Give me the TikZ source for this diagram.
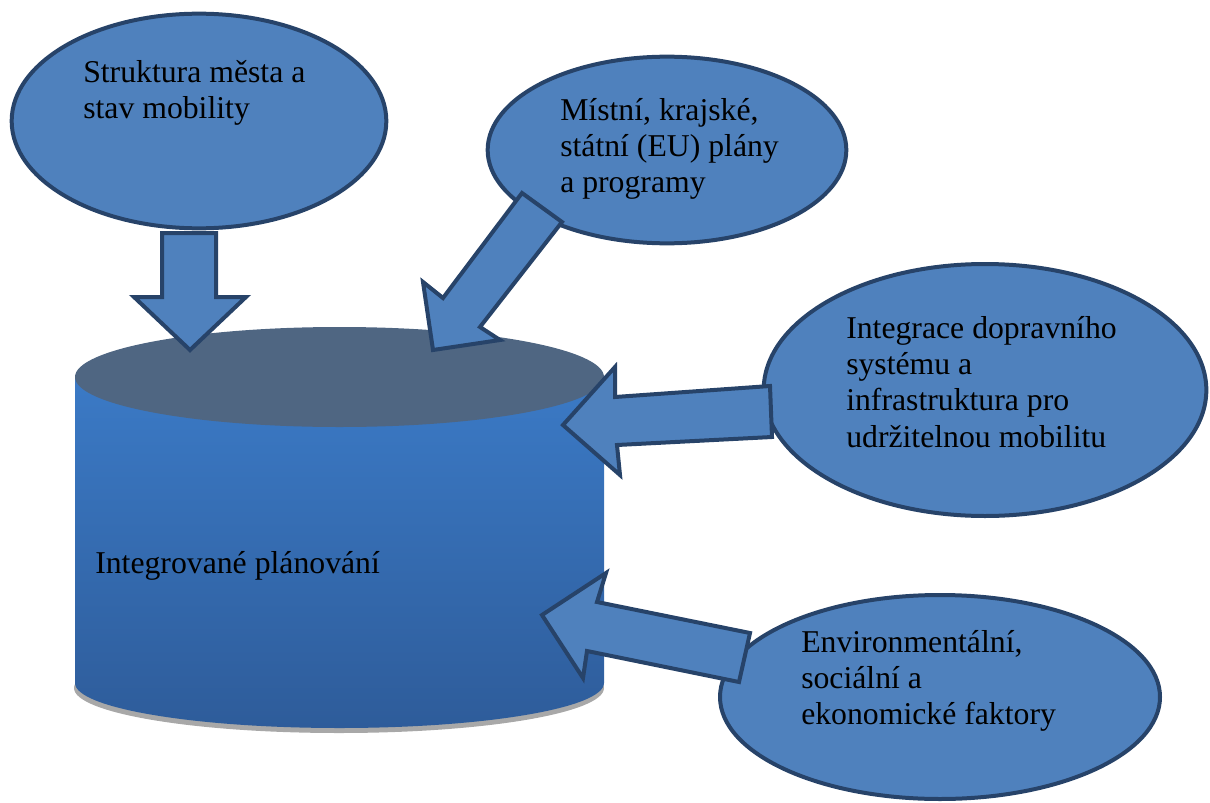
\documentclass[tikz,border=0pt]{standalone}
\usepackage{fontspec}
\setmainfont{Liberation Serif}
\usetikzlibrary{shapes.geometric}
\definecolor{ovalblue}{HTML}{4F81BD}
\definecolor{edgeblue}{HTML}{274369}
\definecolor{cyltop}{HTML}{4F6682}
\definecolor{cyllight}{HTML}{3B7AC6}
\definecolor{cyldark}{HTML}{2E5C9A}
\definecolor{shadowgray}{HTML}{A8A8A8}
\begin{document}
\begin{tikzpicture}[x=0.75pt,y=-0.75pt]
\tikzstyle{oval}=[ellipse, draw=edgeblue, fill=ovalblue, line width=3pt, inner sep=0pt]
\tikzstyle{label}=[anchor=north west, align=left, inner sep=0pt, font=\fontsize{23.8}{27.2}\selectfont]
\tikzstyle{blockarrow}=[draw=edgeblue, fill=ovalblue, line width=3pt, line join=miter]
\useasboundingbox (0,0) rectangle (1210,803);
\draw (199,121) node (e1) [oval, minimum width=281pt, minimum height=161pt] {};
\draw (667,150) node (e2) [oval, minimum width=269pt, minimum height=140pt] {};
\draw (985,390) node (e3) [oval, minimum width=332pt, minimum height=189pt] {};
\draw (940,697) node (e4) [oval, minimum width=330pt, minimum height=153pt] {};
\fill[shadowgray] (339,688) ellipse [x radius=265, y radius=45];
\shade[top color=cyllight, bottom color=cyldark] (75,377) -- (75,683)
  arc [start angle=180, end angle=0, x radius=264.5, y radius=45] -- (604,377) -- cycle;
\fill[cyltop] (339.5,377) ellipse [x radius=264.5, y radius=50];
\draw[blockarrow] (162,233) -- (216,233) -- (216,297) -- (246,297) -- (190,350) -- (134,297) -- (162,297) -- cycle;
\draw[blockarrow] (522,193) -- (562,222) -- (480,327) -- (500,340) -- (433,350) -- (423,282) -- (443,298) -- cycle;
\draw[blockarrow] (770,386) -- (772,437) -- (617,445) -- (620,475) -- (563,425) -- (615,367) -- (615,397) -- cycle;
\draw[blockarrow] (750,633) -- (739,682) -- (587,651) -- (583,678) -- (542,615) -- (606,573) -- (597,602) -- cycle;
\node (t1) [label] at (83,56.6) {\strut Struktura města a\\stav mobility};
\node (t2) [label] at (560,94.6) {\strut Místní, krajské,\\státní (EU) plány\\a programy};
\node (t3) [label] at (846,312.6) {\strut Integrace dopravního\\systému a\\infrastruktura pro\\udržitelnou mobilitu};
\node (t4) [label] at (801,626.6) {\strut Environmentální,\\sociální a\\ekonomické faktory};
\node (t5) [label] at (95,547.6) {\strut Integrované plánování};
\end{tikzpicture}
\end{document}
